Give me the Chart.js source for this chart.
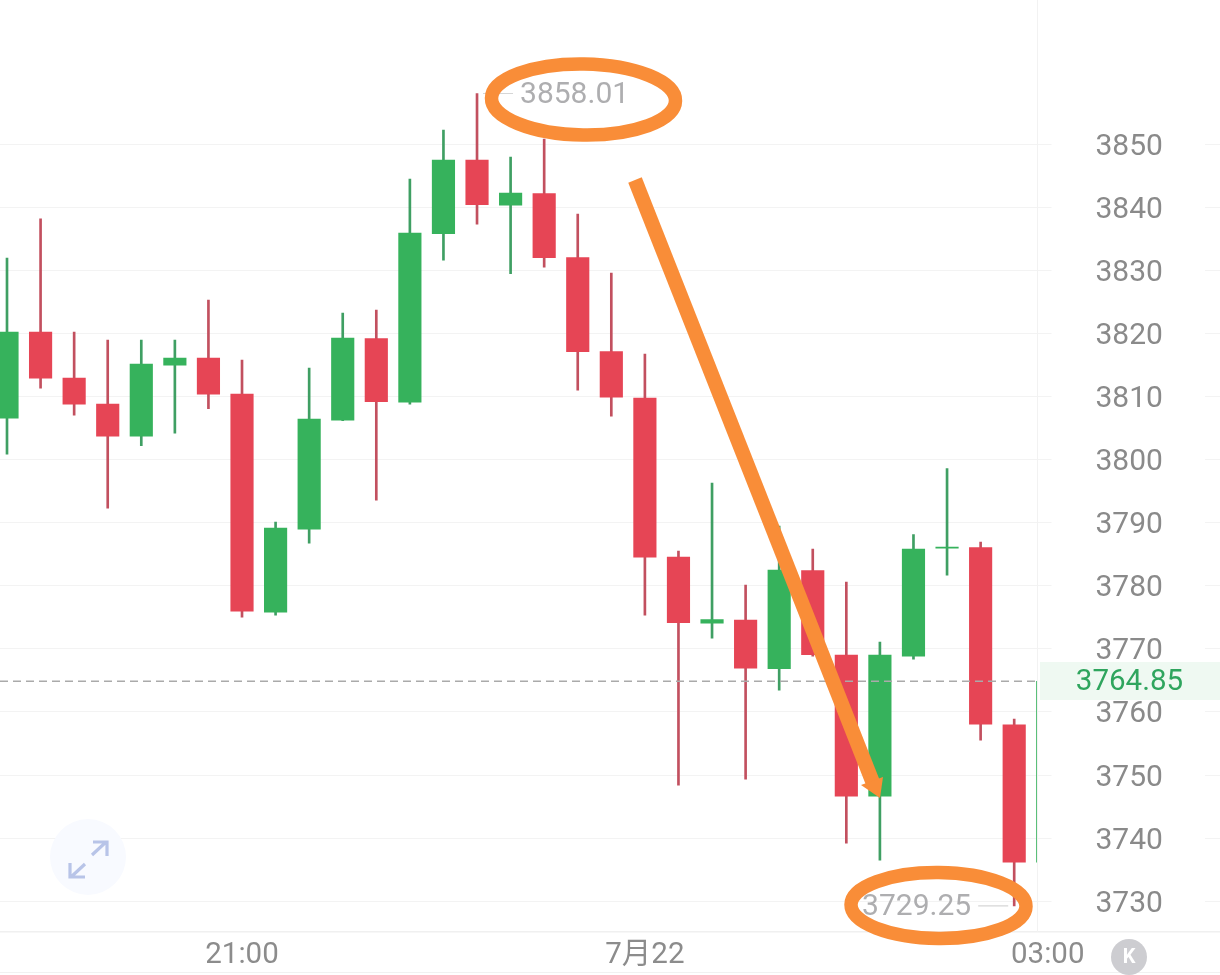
<!DOCTYPE html>
<html>
<head>
<meta charset="utf-8">
<style>html,body{margin:0;padding:0;background:#fff;overflow:hidden}canvas{display:block}</style>
<script src="https://cdn.jsdelivr.net/npm/chart.js@4/dist/chart.umd.min.js"></script>
</head>
<body>
<canvas id="c" width="1220" height="975"></canvas>
<script>
const opens  = [3806.56,3820.2,3812.9,3808.78,3803.71,3814.97,3816.07,3810.37,3775.81,3788.97,3806.25,3819.17,3809.1,3835.81,3847.46,3840.33,3842.15,3832.01,3817.11,3809.73,3784.53,3774.06,3774.54,3766.85,3782.39,3768.99,3746.64,3768.83,3785.95,3786.03,3757.97,3736.18];
const closes = [3820.2,3812.9,3808.78,3803.71,3815.12,3816.07,3810.37,3775.97,3789.13,3806.4,3819.25,3809.18,3835.89,3847.46,3840.41,3842.23,3832.01,3817.11,3809.89,3784.53,3774.14,3774.62,3766.93,3782.47,3769.07,3746.64,3768.99,3785.8,3786.11,3758.05,3736.18,3764.85];
const highs  = [3831.93,3838.16,3820.2,3818.93,3818.93,3818.93,3825.27,3815.76,3790.08,3814.49,3823.21,3823.68,3844.45,3852.22,3858.01,3847.94,3850.79,3838.9,3829.55,3816.71,3785.48,3796.26,3780.09,3789.44,3785.8,3780.56,3771.05,3788.09,3798.56,3786.91,3758.85,3764.85];
const lows   = [3800.86,3811.32,3807.04,3792.3,3802.2,3804.19,3808.07,3775.02,3775.33,3786.75,3806.17,3793.56,3808.78,3831.61,3837.32,3829.47,3830.5,3811,3806.88,3775.33,3748.38,3771.69,3749.33,3763.44,3768.83,3739.19,3736.49,3768.36,3781.67,3755.52,3729.25,3736.18];
const yTickValues = [3730,3740,3750,3760,3770,3780,3790,3800,3810,3820,3830,3840,3850];
const xTickIndexes = [7,19,31];
const xTickLabels = ['21:00','7月22','03:00'];
const lastPrice = 3764.85;
const highPrice = 3858.01;
const lowPrice = 3729.25;

const RED='#e64555', GREEN='#36b25c', REDW='#c2505f', GREENW='#3f9f63';
const FONT="Roboto, 'Noto Sans CJK SC', sans-serif";
const isUp = opens.map((o,i)=>closes[i]>=o);

const overlay = {
  id:'overlay',
  afterDatasetsDraw(chart){
    const ctx=chart.ctx, x=chart.scales.x, y=chart.scales.y;
    ctx.save();
    // plot edge line
    ctx.strokeStyle='#f2f2f2'; ctx.lineWidth=1;
    ctx.beginPath(); ctx.moveTo(1037.5,0); ctx.lineTo(1037.5,932); ctx.stroke();
    // bottom rule
    ctx.strokeStyle='#f1f1f1'; ctx.beginPath(); ctx.moveTo(0,972.5); ctx.lineTo(1220,972.5); ctx.stroke();
    // last price line
    const ly=y.getPixelForValue(lastPrice);
    ctx.strokeStyle='#aaaaaa'; ctx.lineWidth=1.5; ctx.setLineDash([8,5]);
    ctx.beginPath(); ctx.moveTo(0,ly); ctx.lineTo(1037,ly); ctx.stroke(); ctx.setLineDash([]);
    // last price badge
    ctx.fillStyle='#eff9f2'; ctx.fillRect(1040,662,180,38);
    ctx.fillStyle='#2fa55e'; ctx.font='29.5px '+FONT; ctx.textAlign='center'; ctx.textBaseline='middle';
    ctx.fillText(lastPrice.toFixed(2),1129.5,683);
    // high / low markers
    const hy=y.getPixelForValue(highPrice), lwy=y.getPixelForValue(lowPrice);
    const hx=x.getPixelForValue(14), lx=x.getPixelForValue(30);
    ctx.strokeStyle='#d6d6d6'; ctx.lineWidth=1.2;
    ctx.beginPath(); ctx.moveTo(hx+6,hy); ctx.lineTo(hx+36,hy);
    ctx.moveTo(lx-36,lwy); ctx.lineTo(lx-6,lwy); ctx.stroke();
    ctx.fillStyle='#aeaeb0'; ctx.font='30px '+FONT; ctx.textBaseline='middle';
    ctx.textAlign='left'; ctx.fillText(highPrice.toFixed(2),hx+43,hy+2);
    ctx.textAlign='right'; ctx.fillText(lowPrice.toFixed(2),lx-43,lwy+2);
    // orange annotations
    ctx.strokeStyle='#f98d38'; ctx.fillStyle='#f98d38'; ctx.lineWidth=13.5;
    ctx.beginPath(); ctx.ellipse(583.5,99.5,92,35.5,0.015,0,Math.PI*2); ctx.stroke();
    ctx.beginPath(); ctx.ellipse(938.5,905.5,87.5,33,0.01,0,Math.PI*2); ctx.stroke();
    ctx.lineWidth=14.5; ctx.lineCap='butt';
    ctx.beginPath(); ctx.moveTo(635,180); ctx.lineTo(873,783); ctx.stroke();
    ctx.beginPath(); ctx.moveTo(861,785); ctx.lineTo(883,777); ctx.lineTo(880,798); ctx.closePath(); ctx.fill();
    // expand button
    ctx.fillStyle='#f8faff'; ctx.beginPath(); ctx.arc(88,857,38,0,Math.PI*2); ctx.fill();
    ctx.strokeStyle='#b8c4e8'; ctx.lineWidth=3.2;
    ctx.beginPath();
    ctx.moveTo(92,855); ctx.lineTo(106,842); ctx.moveTo(93,842); ctx.lineTo(107,842); ctx.lineTo(107,856);
    ctx.moveTo(85,864); ctx.lineTo(71,877); ctx.moveTo(70,863); ctx.lineTo(70,877); ctx.lineTo(85,877);
    ctx.stroke();
    // K button
    ctx.fillStyle='#cdcdd1'; ctx.beginPath(); ctx.arc(1129,957,18,0,Math.PI*2); ctx.fill();
    ctx.fillStyle='#ffffff'; ctx.font='bold 20px '+FONT; ctx.textAlign='center'; ctx.textBaseline='middle';
    ctx.fillText('K',1129,958);
    ctx.restore();
  }
};

const CLIP={left:0,top:0,bottom:0,right:-182.5};
new Chart(document.getElementById('c'),{
  type:'bar',
  data:{datasets:[
    {label:'wick',grouped:false,clip:CLIP,barThickness:2,order:2,
     data:highs.map((h,i)=>({x:i,y:[lows[i],h]})),
     backgroundColor:isUp.map(u=>u?GREENW:REDW)},
    {label:'body',grouped:false,clip:CLIP,barThickness:22.5,order:1,
     data:opens.map((o,i)=>({x:i,y:[o,closes[i]]})),
     backgroundColor:isUp.map(u=>u?GREEN:RED)}
  ]},
  options:{
    responsive:false,animation:false,devicePixelRatio:1,
    layout:{padding:0},
    plugins:{legend:{display:false},tooltip:{enabled:false},title:{display:false}},
    scales:{
      x:{type:'linear',position:'bottom',min:-0.2085,max:36.13,offset:false,
        grid:{display:false,drawTicks:false},
        border:{display:true,color:'#f0f0f0',width:1.5},
        afterBuildTicks:s=>{s.ticks=xTickIndexes.map(v=>({value:v}));},
        afterFit:s=>{s.height=43;s.paddingLeft=0;s.paddingRight=0;},
        ticks:{autoSkip:false,maxRotation:0,padding:6,color:'#8c8c8c',
          font:{family:FONT,size:29.5},
          callback:v=>xTickLabels[xTickIndexes.indexOf(v)]}},
      y:{type:'linear',position:'left',min:3725.12,max:3872.83,
        grid:{color:'#f3f3f3',lineWidth:1,drawTicks:false},
        border:{display:false},
        afterBuildTicks:s=>{s.ticks=yTickValues.map(v=>({value:v}));},
        afterFit:s=>{s.paddingTop=0;s.paddingBottom=0;s.width=0;},
        ticks:{mirror:true,padding:1095.5,autoSkip:false,color:'#8a8a8a',labelOffset:3,
          font:{family:FONT,size:30},
          showLabelBackdrop:true,backdropColor:'#ffffff',
          backdropPadding:{left:44,right:42,top:0,bottom:0},
          callback:v=>String(v)}}
    }
  },
  plugins:[overlay]
});
</script>
</body>
</html>
